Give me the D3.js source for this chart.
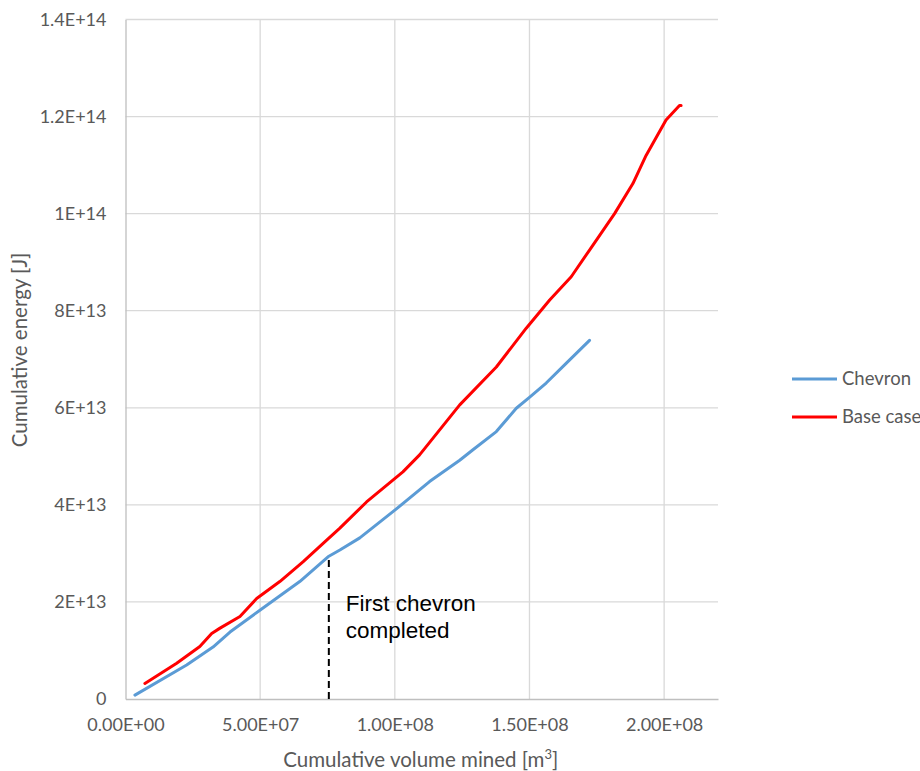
<!DOCTYPE html>
<html>
<head>
<meta charset="utf-8">
<script src="https://cdn.jsdelivr.net/npm/d3@7"></script>
<style>
  body { margin: 0; background: #fff; }
  svg { display: block; }
  .tick text { font-family: Lato, "Open Sans", sans-serif; fill: #595959; }
</style>
</head>
<body>
<svg id="chart" width="920" height="771"></svg>
<script>
// values
var chevronX = [3.5e6, 2.27e7, 3.25e7, 3.88e7, 4.99e7, 6.47e7, 7.52e7, 7.96e7, 8.70e7, 1.000e8,
                1.129e8, 1.241e8, 1.289e8, 1.377e8, 1.451e8, 1.501e8, 1.562e8, 1.637e8, 1.723e8];
var chevronY = [0.8e12, 7.0e12, 1.07e13, 1.38e13, 1.83e13, 2.42e13, 2.93e13, 3.07e13, 3.32e13, 3.89e13,
                4.48e13, 4.92e13, 5.13e13, 5.51e13, 5.99e13, 6.22e13, 6.51e13, 6.92e13, 7.39e13];
var baseX = [7.2e6, 1.90e7, 2.76e7, 3.20e7, 3.51e7, 4.25e7, 4.87e7, 5.73e7, 6.60e7, 7.46e7, 7.96e7,
             8.95e7, 1.030e8, 1.092e8, 1.241e8, 1.377e8, 1.488e8, 1.575e8, 1.655e8, 1.723e8, 1.816e8,
             1.884e8, 1.933e8, 2.007e8, 2.057e8, 2.063e8];
var baseY = [3.2e12, 7.35e12, 1.08e13, 1.35e13, 1.46e13, 1.70e13, 2.07e13, 2.42e13, 2.83e13, 3.27e13, 3.52e13,
             4.06e13, 4.68e13, 5.03e13, 6.06e13, 6.84e13, 7.64e13, 8.22e13, 8.70e13, 9.25e13, 1.000e14,
             1.062e14, 1.120e14, 1.193e14, 1.223e14, 1.223e14];
var xTicks = [0, 5e7, 1e8, 1.5e8, 2e8];
var xTickLabels = ["0.00E+00", "5.00E+07", "1.00E+08", "1.50E+08", "2.00E+08"];
var yTicks = [0, 2e13, 4e13, 6e13, 8e13, 1e14, 1.2e14, 1.4e14];
var yTickLabels = ["0", "2E+13", "4E+13", "6E+13", "8E+13", "1E+14", "1.2E+14", "1.4E+14"];
var chevronDoneX = 7.55e7;
var chevronDoneY = 2.93e13;
var seriesNames = ["Chevron", "Base case"];
var seriesColors = ["#5b9bd5", "#ff0000"];

(function () {
  var svg = d3.select("#chart");
  var pLeft = 125.5, pRight = 718, pTop = 19.5, pBottom = 699;

  var x = d3.scaleLinear().domain([0, 2.2e8]).range([pLeft, pRight]);
  var y = d3.scaleLinear().domain([0, 1.4e14]).range([pBottom, pTop]);

  // gridlines
  svg.append("g").selectAll("line").data(yTicks.slice(1)).enter().append("line")
    .attr("x1", pLeft).attr("x2", pRight)
    .attr("y1", function (d) { return y(d); }).attr("y2", function (d) { return y(d); })
    .attr("stroke", "#d9d9d9").attr("stroke-width", 1.3);
  svg.append("g").selectAll("line").data(xTicks.slice(1)).enter().append("line")
    .attr("y1", pTop).attr("y2", pBottom)
    .attr("x1", function (d) { return x(d); }).attr("x2", function (d) { return x(d); })
    .attr("stroke", "#d9d9d9").attr("stroke-width", 1.3);

  // axes
  var xAxis = d3.axisBottom(x).tickValues(xTicks).tickSize(0).tickPadding(19)
    .tickFormat(function (d, i) { return xTickLabels[i]; });
  var gx = svg.append("g").attr("transform", "translate(0," + pBottom + ")").call(xAxis);
  gx.select(".domain").attr("stroke", "#bfbfbf").attr("stroke-width", 1.3);
  gx.selectAll("text").attr("font-size", 18);

  var yAxis = d3.axisLeft(y).tickValues(yTicks).tickSize(0).tickPadding(19)
    .tickFormat(function (d, i) { return yTickLabels[i]; });
  var gy = svg.append("g").attr("transform", "translate(" + pLeft + ",0)").call(yAxis);
  gy.select(".domain").attr("stroke", "#bfbfbf").attr("stroke-width", 1.3);
  gy.selectAll("text").attr("font-size", 18);

  // series
  var line = d3.line()
    .x(function (d) { return x(d[0]); })
    .y(function (d) { return y(d[1]); });
  var series = [d3.zip(chevronX, chevronY), d3.zip(baseX, baseY)];
  series.forEach(function (s, i) {
    svg.append("path").datum(s).attr("d", line)
      .attr("fill", "none").attr("stroke", seriesColors[i])
      .attr("stroke-width", 3).attr("stroke-linecap", "round").attr("stroke-linejoin", "round");
  });

  // first chevron marker
  svg.append("line")
    .attr("x1", x(chevronDoneX)).attr("x2", x(chevronDoneX))
    .attr("y1", y(0)).attr("y2", y(chevronDoneY))
    .attr("stroke", "#000").attr("stroke-width", 2).attr("stroke-dasharray", "7,4");
  var note = svg.append("text")
    .attr("font-family", "'Liberation Sans', Arial, sans-serif").attr("font-size", 22.5).attr("fill", "#000");
  note.append("tspan").attr("x", x(chevronDoneX) + 17).attr("y", 611).text("First chevron");
  note.append("tspan").attr("x", x(chevronDoneX) + 17).attr("y", 638).text("completed");

  // axis titles
  svg.append("text").attr("x", (pLeft + pRight) / 2 - 1).attr("y", 767)
    .attr("text-anchor", "middle").attr("font-family", "Lato, 'Open Sans', sans-serif")
    .attr("font-size", 20.5).attr("fill", "#595959")
    .html("Cumulative volume mined [m<tspan baseline-shift='super' font-size='13'>3</tspan>]");
  svg.append("text").attr("transform", "translate(27,350) rotate(-90)")
    .attr("text-anchor", "middle").attr("font-family", "Lato, 'Open Sans', sans-serif")
    .attr("font-size", 20.5).attr("fill", "#595959")
    .text("Cumulative energy [J]");

  // legend
  var legend = svg.append("g").selectAll("g").data(seriesNames).enter().append("g")
    .attr("transform", function (d, i) { return "translate(792," + (379 + i * 38) + ")"; });
  legend.append("line").attr("x1", 0).attr("x2", 45)
    .attr("stroke", function (d, i) { return seriesColors[i]; }).attr("stroke-width", 3);
  legend.append("text").attr("x", 50).attr("dy", "0.35em")
    .attr("font-family", "Lato, 'Open Sans', sans-serif").attr("font-size", 18.5).attr("fill", "#595959")
    .text(function (d) { return d; });
})();
</script>
</body>
</html>
